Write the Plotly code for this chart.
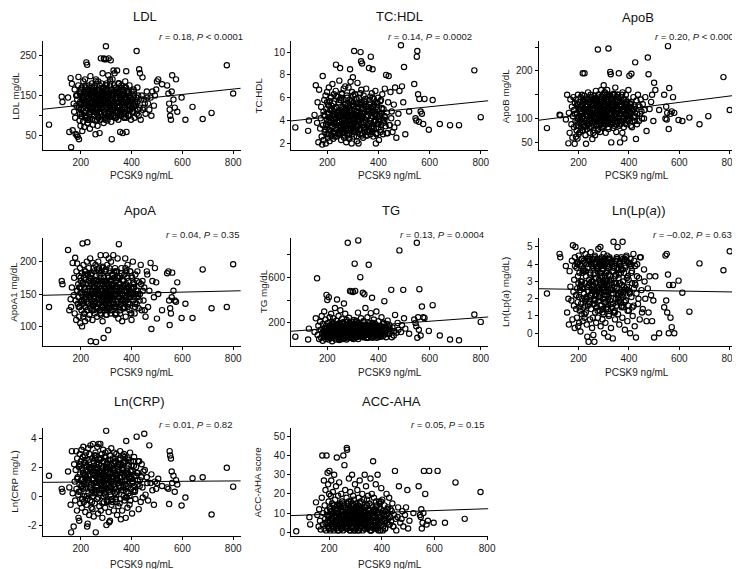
import plotly.graph_objects as go

# ---------------- data ----------------
pcsk9 = [
    75,125,128,150,155,160,162,165,168,172,
    174,176,178,180,182,183,185,186,188,190,
    191,193,194,195,196,197,198,199,200,201,
    202,203,204,205,206,207,208,209,210,211,
    212,213,214,215,216,217,218,219,220,221,
    222,223,224,225,226,227,228,229,230,231,
    232,233,234,235,236,237,238,239,240,242,
    243,244,245,246,247,248,249,250,251,252,
    253,254,255,256,257,258,259,260,261,262,
    263,264,265,266,267,268,269,270,271,272,
    273,274,275,276,277,278,279,280,281,282,
    283,284,285,286,287,288,289,290,291,292,
    293,294,295,296,297,298,299,300,301,302,
    303,304,305,306,307,308,309,310,311,312,
    313,314,315,316,317,318,319,320,321,322,
    323,325,326,328,329,330,332,333,335,336,
    338,339,340,342,343,345,346,348,349,350,
    352,353,355,357,358,360,362,363,365,367,
    368,370,372,374,375,377,379,380,382,384,
    386,388,390,392,394,396,398,400,402,405,
    407,410,412,415,418,420,423,425,428,430,
    433,436,440,443,447,450,455,460,465,470,
    475,478,482,488,492,497,500,505,520,540,
    545,548,550,552,555,558,560,565,570,575,
    580,597,612,640,680,715,775,800,
    186,192,199,204,209,214,219,224,229,233,
    238,241,244,247,251,254,257,259,262,265,
    267,269,271,274,276,278,281,283,285,287,
    289,291,293,295,297,299,301,303,305,307,
    309,311,313,315,317,319,321,324,327,329,
    331,334,337,339,341,344,347,351,354,356,
    359,361,364,366,369,371,373,376,378,381,
    383,385,387,391,395,399,403,408,413,419,
    196,206,216,226,236,246,256,264,272,280,
    284,288,292,296,300,304,308,312,316,320,
    324,328,332,336,340,344,348,352,356,360,
    364,368,372,376,380,384,388,392,396,400,
    404,409,414,421,426,432,438,444,452,462,
    218,228,243,253,263,277,286,298,306,318,
    326,334,346,355,366,377,389,397,410,424,
]

ldl = [
    78,147,134,145,60,193,22,179,64,130,
    110,165,95,55,150,125,52,140,48,175,
    196,42,120,88,155,105,135,75,160,115,
    128,98,170,140,62,118,150,85,185,132,
    108,145,72,160,125,190,95,138,112,155,
    232,100,148,226,82,130,165,118,142,90,
    175,125,105,155,68,140,198,115,132,160,
    120,180,92,150,135,78,162,110,145,125,
    170,100,138,88,155,54,128,190,115,145,
    105,165,130,75,150,120,185,96,140,160,
    125,57,175,110,145,90,242,135,160,118,
    152,98,128,205,115,170,140,82,242,130,
    240,110,158,125,95,148,272,240,135,180,
    120,165,88,145,130,200,105,242,155,125,
    140,98,175,115,160,237,130,85,150,42,
    115,190,138,100,212,160,125,205,145,95,
    170,130,110,155,212,120,145,90,180,135,
    125,160,60,140,100,175,115,150,57,135,
    165,95,145,120,185,105,210,60,140,125,
    155,100,130,175,115,145,90,160,120,140,
    110,150,95,135,125,260,170,115,100,215,
    205,90,150,195,120,140,105,160,130,115,
    145,100,160,125,150,165,185,190,178,175,
    155,130,115,100,90,160,200,140,120,190,
    110,145,90,122,92,107,225,155,
    150,120,165,105,140,130,175,95,155,125,
    110,145,170,130,100,160,120,185,140,115,
    150,95,135,165,125,105,180,145,120,160,
    130,170,110,150,90,140,175,120,160,135,
    105,155,125,190,140,100,165,130,150,115,
    175,120,145,95,160,135,110,180,125,150,
    140,105,165,130,120,155,95,145,170,115,
    135,160,100,150,125,140,110,165,130,145,
    130,145,100,160,120,140,175,90,150,125,
    160,115,140,95,175,130,150,110,185,135,
    120,155,100,140,165,125,180,105,145,130,
    150,110,170,135,95,160,125,145,115,140,
    125,160,135,105,150,120,140,115,130,145,
    170,90,155,125,110,145,135,165,100,150,
    140,120,160,110,150,130,100,145,125,135,
]

tc_hdl = [
    3.4,3.1,4.0,4.5,7.1,3.8,5.6,2.1,6.7,3.3,
    4.2,5.2,2.6,1.9,7.9,3.6,4.8,2.3,5.8,3.0,
    4.4,6.2,2.0,3.7,5.0,2.8,4.1,6.5,3.4,4.7,
    2.5,5.4,3.9,4.6,6.9,3.2,4.3,2.2,5.7,3.8,
    4.9,3.1,6.0,4.0,2.7,5.3,3.5,4.4,7.2,3.0,
    4.6,2.4,5.5,3.8,6.3,4.1,3.3,5.0,2.9,4.5,
    3.7,6.6,8.9,4.2,2.6,5.1,3.9,4.8,3.2,6.1,
    4.3,2.8,5.6,3.6,7.5,4.0,3.1,8.6,4.9,3.4,
    5.8,2.3,4.4,3.7,6.4,4.1,2.9,5.2,3.5,4.7,
    3.0,6.8,4.2,2.5,5.4,3.8,4.6,7.0,3.3,4.0,
    5.1,2.1,4.5,6.2,3.6,4.8,2.7,5.5,3.9,4.3,
    6.9,3.2,4.7,2.4,5.8,4.1,8.5,3.5,7.4,4.4,
    3.7,5.3,2.0,4.9,6.5,3.4,4.2,7.8,3.0,5.6,
    4.0,2.6,10.1,5.0,3.8,6.3,4.5,4.4,3.3,3.6,
    4.8,3.1,5.9,2.2,4.3,7.3,3.6,5.2,4.1,2.0,
    6.0,3.9,5.4,2.8,4.6,10.0,9.2,6.7,4.2,9.0,
    5.1,4.4,2.5,6.2,3.8,5.3,4.7,3.2,5.6,4.0,
    6.8,3.4,5.0,2.7,4.5,5.2,3.7,8.6,4.9,3.1,
    5.5,9.6,4.2,6.4,3.3,8.5,4.8,2.6,5.9,3.9,
    4.5,6.6,2.0,5.2,3.7,4.9,6.0,3.4,2.3,4.4,
    5.7,3.6,4.6,6.3,2.8,5.0,4.0,6.8,3.5,8.0,
    4.7,2.9,7.9,3.6,6.5,4.2,3.0,5.4,6.9,2.5,
    3.8,4.6,6.6,10.6,7.0,5.6,8.7,2.8,4.8,7.2,
    4.2,4.0,9.6,10.1,6.3,3.9,5.9,4.8,4.6,3.7,
    5.9,3.2,5.8,3.7,3.6,3.6,8.4,4.3,
    4.5,3.2,5.6,2.8,4.0,6.1,3.5,4.8,2.6,5.2,
    3.9,4.7,2.9,5.8,3.4,4.4,6.3,3.0,5.0,4.1,
    2.7,5.4,3.8,4.6,3.1,6.0,4.3,2.5,5.1,3.6,
    4.9,3.3,5.7,4.0,2.8,4.5,6.2,3.7,5.3,3.0,
    4.2,5.9,3.5,2.6,4.8,3.9,5.5,4.4,3.2,6.4,
    3.8,5.0,2.9,4.6,3.4,5.7,4.1,2.7,5.2,3.6,
    4.4,3.1,5.8,4.0,2.8,5.1,3.5,6.0,4.7,3.3,
    5.4,3.9,4.6,2.9,5.6,3.7,4.3,3.0,5.0,4.1,
    3.6,5.3,4.2,2.9,6.1,3.9,4.7,3.2,5.5,4.4,
    2.8,4.9,3.7,5.7,4.2,3.1,6.3,4.5,3.4,5.1,
    4.0,3.3,5.4,2.7,4.8,3.8,5.9,4.3,3.0,5.0,
    3.5,6.1,4.4,3.0,5.3,3.9,4.7,2.8,5.5,4.1,
    4.6,3.2,5.1,3.8,4.3,2.9,5.6,3.6,4.8,3.4,
    5.0,3.7,4.5,6.0,3.3,4.9,2.8,5.4,4.1,3.6,
    4.3,5.6,3.4,4.8,3.1,5.2,4.0,3.7,5.8,4.4,
]

apob = [
    80,108,107,98,150,48,112,70,140,88,
    125,60,105,145,82,118,47,132,95,62,
    140,75,110,130,58,100,150,85,120,68,
    105,135,90,115,72,125,98,145,80,110,
    128,92,150,112,75,195,105,138,87,120,
    100,148,195,83,118,135,65,108,47,125,
    142,95,115,78,130,105,155,88,120,98,
    112,140,70,125,95,150,108,82,132,118,
    100,145,57,122,90,138,110,76,128,105,
    148,92,118,65,135,102,158,85,125,112,
    95,140,108,130,245,78,118,150,100,88,
    127,105,145,72,115,98,138,160,90,120,
    108,132,80,150,115,95,125,170,105,140,
    88,118,155,100,128,70,145,110,92,135,
    115,160,98,125,82,140,247,105,130,95,
    150,112,198,193,128,50,88,145,118,100,
    135,80,152,110,125,95,165,118,140,72,
    105,138,92,150,120,195,85,128,50,112,
    145,95,130,70,155,115,100,140,58,125,
    108,150,88,122,135,95,160,115,190,100,
    130,194,82,118,145,105,125,218,57,138,
    110,150,95,125,140,115,130,100,145,74,
    228,193,120,135,150,95,175,160,118,150,
    100,125,98,112,252,78,164,110,115,145,
    112,97,95,102,88,105,187,118,
    110,85,130,95,120,75,140,100,125,90,
    115,135,80,105,145,95,120,70,130,110,
    100,140,88,118,75,150,105,128,92,135,
    120,95,145,108,82,130,115,155,98,125,
    105,140,90,118,135,78,125,148,100,112,
    130,92,150,115,85,138,105,122,95,145,
    118,100,135,88,128,110,150,95,120,105,
    125,90,140,108,118,98,132,85,115,102,
    95,120,105,135,88,115,140,100,125,110,
    130,98,145,112,85,125,108,150,95,118,
    110,140,92,128,105,150,88,120,135,100,
    125,95,115,140,82,130,108,118,98,122,
    112,135,95,120,105,88,128,110,100,118,
    130,85,120,100,140,95,115,128,105,145,
    98,125,110,150,90,118,135,105,122,95,
]

apoa1 = [
    130,170,165,218,125,142,130,160,198,148,
    175,120,206,140,110,185,155,197,135,165,
    145,178,115,160,130,190,105,152,170,138,
    158,125,182,100,148,228,135,168,115,195,
    142,175,120,160,185,108,150,130,172,145,
    165,138,200,125,230,155,180,112,148,190,
    135,160,118,175,145,205,128,77,165,150,
    182,140,155,110,198,132,168,150,125,185,
    145,172,120,160,138,195,152,76,178,130,
    162,115,188,142,155,128,200,148,170,135,
    150,180,125,165,140,210,118,158,185,145,
    132,170,155,108,192,148,165,82,140,175,
    158,125,185,145,170,135,210,152,118,165,
    148,195,130,160,175,94,142,205,155,128,
    170,140,185,150,120,165,200,135,158,145,
    180,125,162,210,148,135,175,155,190,118,
    150,170,130,185,160,205,140,112,165,227,
    145,178,120,160,135,190,150,108,172,140,
    162,130,180,148,205,115,165,140,155,195,
    135,170,150,125,185,145,160,110,175,200,
    140,165,120,180,150,135,185,155,128,168,
    150,195,125,170,140,160,115,185,130,155,
    198,96,170,145,190,168,112,150,125,182,
    185,140,102,128,120,145,183,155,140,138,
    168,113,135,113,188,128,130,196,
    155,130,175,140,165,120,185,150,135,170,
    145,180,125,160,190,138,155,170,128,150,
    165,135,185,148,120,175,155,140,190,130,
    150,170,128,160,185,140,118,165,150,178,
    135,160,190,145,125,172,155,140,180,130,
    165,148,120,185,155,135,175,145,160,125,
    140,182,150,128,170,155,138,190,145,160,
    175,130,160,145,185,120,150,168,135,155,
    160,140,180,125,155,170,135,150,190,145,
    130,165,150,185,140,125,175,155,145,170,
    150,135,185,160,120,175,145,130,165,155,
    140,170,128,155,185,145,160,135,150,178,
    160,145,130,170,150,140,165,155,125,180,
    145,180,135,160,170,125,155,188,140,150,
    165,130,175,150,140,185,155,120,160,145,
]

tg = [
    80,55,150,120,240,590,95,175,60,210,
    140,70,260,110,45,190,130,85,300,155,
    100,230,60,175,125,445,80,150,400,115,
    200,90,140,55,425,165,105,250,75,130,
    180,65,120,280,95,150,210,40,135,170,
    110,240,85,160,125,195,70,145,330,100,
    175,55,130,220,90,150,405,115,185,75,
    140,260,100,165,50,200,125,90,310,150,
    115,180,70,145,235,95,160,125,60,205,
    130,85,370,150,110,190,65,280,140,100,
    170,120,55,225,145,95,185,900,130,75,
    160,110,245,140,90,200,480,125,70,175,
    135,475,100,165,210,85,150,120,470,60,
    190,140,105,175,718,130,480,95,160,115,
    220,75,145,185,105,165,125,290,921,140,
    100,200,130,85,600,155,240,115,175,95,
    150,463,120,205,90,450,165,130,330,105,
    180,140,70,250,115,160,708,95,200,135,
    120,285,150,100,420,175,130,80,230,145,
    105,190,140,300,70,160,120,215,95,150,
    175,110,250,135,85,200,390,125,160,75,
    140,220,100,180,130,489,160,90,270,115,
    200,140,834,120,180,489,240,150,105,230,
    200,170,900,70,250,140,495,90,343,250,
    244,130,355,90,55,48,273,209,
    120,80,160,100,140,70,190,110,150,90,
    130,175,85,115,150,60,200,125,95,165,
    105,145,75,180,120,210,90,155,135,70,
    160,100,185,130,65,150,115,225,95,140,
    125,80,170,110,195,140,60,155,105,180,
    90,160,130,75,215,115,145,95,175,120,
    150,70,185,125,100,160,135,85,200,110,
    130,175,95,150,120,80,165,140,105,190,
    110,145,85,170,130,60,155,120,95,180,
    140,100,195,125,75,160,115,210,135,90,
    165,120,80,150,105,185,130,70,175,145,
    95,160,125,200,110,140,85,170,130,155,
    120,80,165,140,100,190,115,150,75,130,
    175,95,140,115,160,85,200,125,150,105,
    130,185,100,155,120,70,170,140,90,160,
]

ln_lpa = [
    2.3,4.6,4.4,3.9,1.2,2.0,0.5,3.6,2.7,1.9,
    4.2,0.8,5.1,2.4,1.6,3.1,0.3,4.4,5.0,2.2,
    1.4,3.8,0.9,2.6,4.1,1.8,3.3,0.4,2.9,4.5,
    2.1,0.6,3.5,1.3,4.0,2.5,0.1,3.9,1.7,2.8,
    4.3,1.1,3.0,2.0,4.8,0.7,2.6,3.7,1.5,4.2,
    2.3,3.6,0.9,4.1,1.9,2.9,4.6,1.2,3.3,2.1,
    4.0,0.5,2.7,-0.2,3.8,1.6,4.4,2.4,-0.5,3.1,
    1.8,4.2,2.9,0.8,3.5,2.2,4.7,1.4,3.0,4.1,
    2.5,0.3,3.9,1.7,4.3,2.8,-0.1,3.4,2.0,4.0,
    -0.5,2.6,4.5,1.2,3.2,2.2,4.1,0.6,2.9,3.8,
    1.5,4.3,2.4,3.6,0.9,2.7,4.9,1.9,3.1,2.3,
    4.0,1.3,3.5,2.1,5.0,0.4,2.8,3.9,1.6,4.4,
    2.6,3.2,0.8,4.2,2.0,3.7,1.1,4.6,2.5,0.0,
    3.9,1.8,2.9,4.3,0.6,2.4,3.5,1.4,4.1,2.2,
    3.0,4.5,1.7,2.6,-0.2,3.8,2.1,4.0,1.0,2.8,
    4.4,1.9,3.3,2.5,0.3,4.1,2.9,1.5,3.6,-0.3,
    2.3,5.3,1.2,3.9,2.7,0.8,4.2,2.0,3.4,1.6,
    4.3,2.6,5.0,1.1,3.7,2.3,0.5,4.0,2.9,1.8,
    3.5,4.4,2.2,0.9,5.3,3.0,1.5,4.2,2.5,0.2,
    3.8,1.9,4.5,2.7,0.7,3.3,4.1,1.3,2.4,0.0,
    4.3,2.1,3.6,1.0,4.6,2.6,0.4,3.9,-0.25,2.3,
    4.0,1.7,3.2,0.8,4.4,2.5,1.4,3.7,2.0,0.7,
    2.6,1.2,3.3,2.2,0.7,1.9,-0.25,3.3,0.0,1.5,
    4.5,1.9,4.6,1.2,3.4,0.0,2.8,0.9,0.35,2.8,
    0.0,3.05,2.35,1.25,4.05,None,3.65,4.75,
    3.9,2.2,4.1,1.5,3.0,4.3,2.6,1.1,3.6,2.0,
    4.2,2.8,1.7,3.4,4.0,2.3,0.9,3.8,2.5,4.4,
    1.9,3.2,4.1,2.6,1.3,3.7,2.1,4.3,2.9,1.6,
    3.5,2.4,4.0,1.2,3.0,2.7,4.2,1.8,3.3,2.2,
    4.1,1.5,2.8,3.9,2.0,3.4,1.1,4.3,2.5,3.1,
    2.3,4.0,1.7,3.6,2.9,1.3,4.2,2.6,3.8,2.0,
    3.2,1.9,4.1,2.4,3.7,1.5,2.8,4.3,2.1,3.5,
    1.8,3.9,2.6,4.2,1.3,3.1,2.3,4.0,2.9,1.6,
    4.0,2.7,3.5,1.6,4.3,2.2,3.0,1.9,3.8,2.5,
    2.1,4.2,3.3,1.4,2.8,4.0,1.8,3.6,2.4,4.3,
    3.0,1.7,4.1,2.5,3.8,1.2,2.9,4.4,2.2,3.4,
    4.1,2.3,1.6,3.7,2.7,4.3,1.9,3.2,2.5,4.0,
    2.4,3.9,1.5,4.2,2.8,3.3,2.0,4.4,1.2,3.0,
    3.6,2.0,4.3,2.7,1.7,3.9,2.4,4.1,3.1,1.4,
    2.6,4.2,3.3,1.8,3.9,2.3,4.4,1.6,3.5,2.9,
]

ln_crp = [
    1.4,0.5,0.3,1.7,0.6,-0.6,-2.5,3.1,0.2,-2.1,
    2.2,1.0,-0.3,1.8,3.1,0.5,-1.0,2.6,1.3,0.1,
    -1.5,2.0,-1.7,0.8,2.9,1.5,-0.5,0.3,2.4,1.1,
    0.7,3.2,-0.8,1.9,1.2,-0.2,2.7,0.5,3.4,1.6,
    -0.4,2.3,1.0,0.0,2.8,1.4,-1.1,1.8,0.6,3.0,
    1.3,-0.6,2.1,-2.1,0.9,-1.9,1.7,3.3,0.2,2.5,
    1.1,-1.3,2.9,0.6,1.5,-0.3,3.5,2.0,0.8,-0.8,
    1.9,0.4,2.6,-0.9,1.2,3.6,0.0,1.6,-1.4,2.3,
    0.9,2.8,-0.5,1.4,0.3,3.0,-2.5,1.8,0.6,2.2,
    1.0,-0.2,3.4,0.7,2.0,-1.2,1.5,3.6,0.4,1.7,
    -0.7,2.5,1.1,0.2,3.6,1.3,-1.0,2.1,0.8,1.6,
    2.9,0.5,-1.5,1.9,1.0,3.2,0.0,2.4,-0.4,1.4,
    0.7,2.7,1.2,-0.8,3.0,0.3,1.8,4.5,-2.0,1.1,
    2.2,0.9,-0.3,1.6,3.1,0.4,2.5,-1.1,1.3,-1.8,
    0.6,2.0,-1.7,1.5,2.8,0.1,1.0,3.3,-0.6,2.1,
    1.2,-0.4,2.6,0.8,1.9,-1.0,3.0,0.5,1.6,2.3,
    -0.2,1.4,2.9,0.3,-1.3,2.0,1.1,-0.7,2.5,0.9,
    1.8,-0.5,3.1,0.6,-1.6,2.2,1.3,-1.0,2.8,0.4,
    1.5,2.9,-0.3,1.0,2.4,-1.5,3.8,0.7,1.9,-0.8,
    2.6,0.2,1.3,-0.6,3.0,1.7,0.5,2.1,-1.2,1.0,
    0.3,2.7,1.4,-0.2,2.0,4.1,0.8,1.6,-0.9,2.4,
    1.1,-0.4,2.2,0.6,1.7,4.3,0.1,1.3,-0.3,3.5,
    0.9,1.5,0.4,-0.6,1.0,0.5,0.9,1.2,0.7,0.6,
    0.5,-0.55,3.1,2.8,2.6,1.7,0.9,1.4,0.3,1.1,
    0.8,-0.65,-0.1,1.23,1.3,-1.27,1.95,0.65,
    1.2,0.3,2.1,-0.2,1.6,0.8,2.5,0.0,1.4,2.0,
    0.6,1.8,-0.4,1.1,2.4,0.2,1.5,2.8,0.7,1.9,
    1.3,-0.1,2.2,0.9,1.7,0.4,2.6,1.0,-0.5,1.5,
    2.0,0.5,1.4,2.7,0.1,1.8,0.8,2.3,-0.3,1.2,
    0.9,2.1,0.3,1.6,2.5,0.6,1.3,-0.2,1.9,1.0,
    1.7,0.2,2.4,1.1,-0.4,1.5,2.0,0.7,1.3,2.6,
    0.4,1.9,1.0,2.3,0.0,1.4,2.7,0.8,1.6,-0.1,
    1.5,0.6,2.1,1.2,-0.3,1.8,0.9,2.4,0.3,1.4,
    2.2,0.7,1.5,-0.2,1.9,1.1,2.6,0.4,1.3,0.9,
    1.6,2.4,0.2,1.2,2.0,-0.4,1.7,0.8,2.5,1.0,
    0.5,1.8,1.3,2.6,0.1,1.5,0.9,2.2,-0.2,1.6,
    1.9,0.6,2.3,1.1,0.3,1.7,2.5,0.0,1.4,1.2,
    1.0,2.1,0.4,1.6,2.4,0.7,1.3,-0.1,1.8,0.9,
    2.3,1.1,0.2,1.7,0.9,2.6,1.4,0.5,2.0,-0.3,
    1.3,0.6,2.2,1.0,1.8,-0.1,1.5,2.4,0.7,1.1,
]

acc_aha = [
    0.5,7.9,4.1,15.6,9,3,12,6,1.5,18,
    40,4,10,27,2,14,7,22,1,40,
    11,5,31,3,25,8,16,2,20,32,
    6,13,1,9,19,4,27,11,3,15,
    7,2,21,10,5,14,1,30,8,12,
    4,17,9,6,24,2,11,39,5,14,
    8,3,19,12,1,10,26,6,15,4,
    13,7,2,20,9,5,16,3,11,7,
    1,40,8,14,4,35,10,6,22,3,
    12,5,56,18,44,43,9,2,15,7,
    4,11,28,6,13,1,8,21,5,16,
    9,3,14,7,30,2,12,6,19,10,
    5,17,1,11,8,25,4,13,7,2,
    15,6,10,3,22,9,1,14,5,18,
    8,12,4,27,6,2,11,16,9,3,
    13,7,20,1,10,5,17,8,30,4,
    11,6,24,3,14,9,2,19,7,12,
    5,15,8,28,1,10,20,4,13,37,
    6,18,9,3,11,25,2,14,7,30,
    10,4,16,8,1,12,23,6,17,3,
    9,14,2,11,20,5,13,7,18,4,
    12,6,15,3,9,32,1,8,24,5,
    7,11,3,9,13,22,2,6,10,24,
    9,8,12,2,5,10,32,20,4,6,
    32,5,32,5,26,7,21,None,
    5,9,2,12,7,3,14,6,10,1,
    8,4,11,2,15,6,9,3,13,5,
    2,10,7,16,4,8,1,12,6,9,
    11,3,7,14,5,9,2,10,6,13,
    4,12,1,8,15,6,10,3,7,11,
    9,2,13,5,8,17,3,11,6,1,
    7,14,4,10,2,12,8,5,16,3,
    10,6,1,13,8,4,11,7,2,9,
    6,11,3,8,14,2,9,5,12,7,
    3,15,8,1,10,6,13,4,9,11,
    12,5,9,2,7,14,4,10,6,1,
    8,3,11,6,13,2,9,15,5,10,
    1,9,6,12,4,8,11,3,7,13,
    10,4,14,7,2,11,6,9,3,12,
    5,13,2,9,11,4,8,16,6,10,
]

panel_titles = ["LDL", "TC:HDL", "ApoB", "ApoA", "TG", "Ln(Lp(<i>a</i>))", "Ln(CRP)", "ACC-AHA"]
y_titles = ["LDL mg/dL", "TC:HDL", "ApoB mg/dL", "ApoA1 mg/dL", "TG mg/dL",
            "Ln(Lp(<i>a</i>) mg/dL)", "Ln(CRP mg/L)", "ACC-AHA score"]
stat_r = ["0.18", "0.14", "0.20", "0.04", "0.13", "–0.02", "0.01", "0.05"]
stat_p = ["&lt; 0.0001", "= 0.0002", "&lt; 0.0001", "= 0.35", "= 0.0004", "= 0.63", "= 0.82", "= 0.15"]
# fitted line values at the left / right end of each x axis
fit_left = [116, 3.97, 96.5, 148, 127, 2.58, 0.95, 8.7]
fit_right = [168, 5.74, 149, 155, 252, 2.39, 1.05, 12.3]
x_tick_vals = [200, 400, 600, 800]
y_tick_vals = [
    [50, 100, 150, 200, 250],
    [2, 4, 6, 8, 10],
    [50, 100, 150, 200, 250],
    [100, 150, 200],
    [200, 400, 600, 800],
    [0, 1, 2, 3, 4, 5],
    [-2, 0, 2, 4],
    [0, 10, 20, 30, 40, 50],
]
y_tick_text = [
    ["50", "", "150", "", "250"],
    ["2", "4", "6", "8", "10"],
    ["50", "100", "", "200", ""],
    ["100", "150", "200"],
    ["200", "", "600", ""],
    ["0", "1", "2", "3", "4", "5"],
    ["-2", "0", "2", "4"],
    ["0", "10", "20", "30", "40", "50"],
]
series = [ldl, tc_hdl, apob, apoa1, tg, ln_lpa, ln_crp, acc_aha]
for s in series:
    assert len(s) == len(pcsk9), len(s)

# ---------------- layout geometry (pixels in a 740x569 page) ----------------
W, H = 740, 569
col_px = [(35, 235), (285.7, 485), (535.7, 735)]
row_px = [(33.5, 143), (230.5, 339), (421, 530)]
x_ranges = [[50, 830], [58, 830], [42, 825], [50, 830], [58, 830], [42, 825], [50, 830], [55, 805]]
y_ranges = [[14, 284], [1.38, 10.94], [33, 262], [70, 237], [0, 945], [-0.73, 5.54], [-2.76, 4.73], [-2, 54.6]]
title_pos = [(138, 9), (395, 9), (636, 10), (133, 203), (387, 203), (637, 203), (133, 395), (387, 395)]
stat_pos = [(239, 29), (470, 29), (740, 29), (235, 227), (483, 227), (733, 227), (228, 418), (483, 418)]
ytitle_x = [8, 253, 503, 6, 258, 503, 7, 252]
xtitle_y = [168, 168, 168, 366, 366, 366, 558, 558]

FONT = "Liberation Sans, Arial, Helvetica, sans-serif"
fig = go.Figure()
layout = dict(
    width=W, height=H, margin=dict(l=0, r=0, t=0, b=0),
    paper_bgcolor="white", plot_bgcolor="white", showlegend=False,
    font=dict(family=FONT, color="#1a1a1a", size=10),
)
annotations = []

def px(x):
    return x / W

def py(y):
    return 1 - y / H

for i in range(8):
    r, c = divmod(i, 3)
    k = "" if i == 0 else str(i + 1)
    x0, x1 = col_px[c]
    y0, y1 = row_px[r]
    fig.add_trace(go.Scatter(
        x=pcsk9, y=series[i], mode="markers", xaxis="x" + k, yaxis="y" + k,
        marker=dict(symbol="circle-open", size=5.3, color="black", line=dict(width=1.15)),
        cliponaxis=False, hoverinfo="skip",
    ))
    fig.add_trace(go.Scatter(
        x=x_ranges[i], y=[fit_left[i], fit_right[i]], mode="lines",
        xaxis="x" + k, yaxis="y" + k, line=dict(color="black", width=1),
        hoverinfo="skip",
    ))
    common = dict(showline=True, linecolor="black", linewidth=1, ticks="outside",
                  ticklen=3, tickwidth=1, tickcolor="black", showgrid=False,
                  zeroline=False, tickfont=dict(size=10, family=FONT, color="#1a1a1a"))
    layout["xaxis" + k] = dict(domain=[px(x0), px(x1)], range=x_ranges[i], anchor="y" + k,
                               tickvals=x_tick_vals, **common)
    layout["yaxis" + k] = dict(domain=[py(y1), py(y0)], range=y_ranges[i], anchor="x" + k,
                               tickvals=y_tick_vals[i], ticktext=y_tick_text[i], **common)
    tx, ty = title_pos[i]
    annotations.append(dict(text=panel_titles[i], x=px(tx), y=py(ty), xref="paper", yref="paper",
                            xanchor="center", yanchor="middle", showarrow=False,
                            font=dict(size=13, family=FONT, color="#111")))
    sx, sy = stat_pos[i]
    annotations.append(dict(text=f"<i>r</i> = {stat_r[i]}, <i>P</i> {stat_p[i]}", x=px(sx), y=py(sy),
                            xref="paper", yref="paper", xanchor="right", yanchor="middle",
                            showarrow=False, font=dict(size=9.5, family=FONT, color="#1a1a1a")))
    annotations.append(dict(text=y_titles[i], x=px(ytitle_x[i]), y=py((y0 + y1) / 2),
                            xref="paper", yref="paper", xanchor="center", yanchor="middle",
                            textangle=-90, showarrow=False,
                            font=dict(size=9.8, family=FONT, color="#1a1a1a")))
    annotations.append(dict(text="PCSK9 ng/mL", x=px((x0 + x1) / 2), y=py(xtitle_y[i]),
                            xref="paper", yref="paper", xanchor="center", yanchor="middle",
                            showarrow=False, font=dict(size=10, family=FONT, color="#1a1a1a")))

layout["annotations"] = annotations
fig.update_layout(**layout)
fig.write_html("out.html")
